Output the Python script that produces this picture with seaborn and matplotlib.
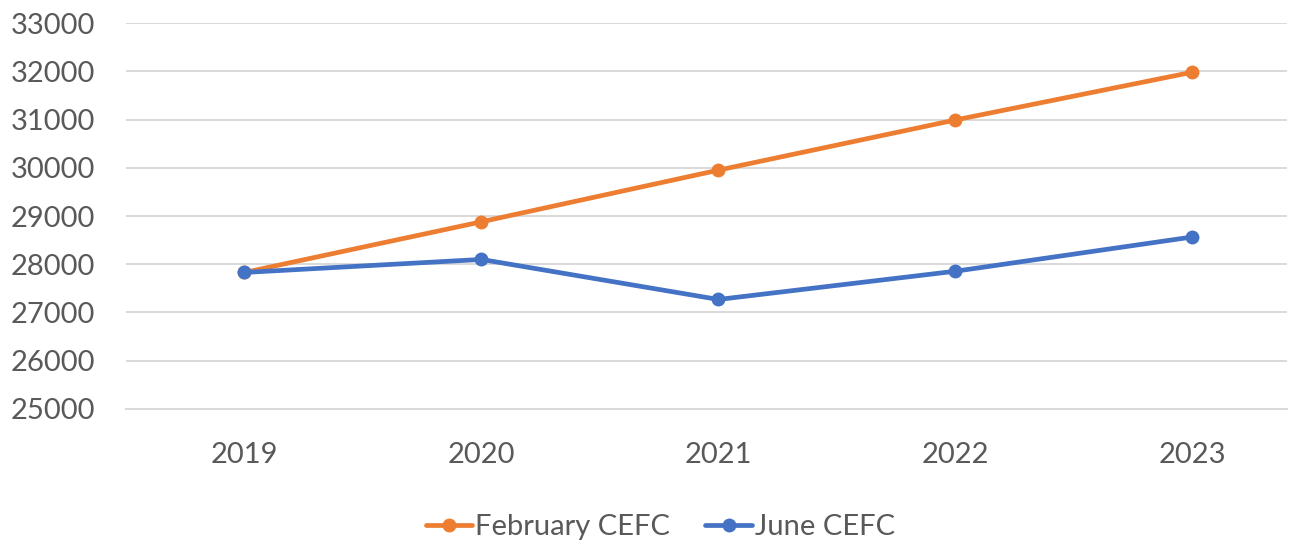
import matplotlib
matplotlib.use("Agg")
import matplotlib.pyplot as plt
import seaborn as sns
import pandas as pd

# data
years = ["2019", "2020", "2021", "2022", "2023"]
february = [27830, 28880, 29950, 30990, 31980]
june = [27830, 28100, 27270, 27855, 28565]

df = pd.DataFrame({
    "year": years * 2,
    "value": february + june,
    "series": ["February CEFC"] * 5 + ["June CEFC"] * 5,
})

sns.set_style("white")
plt.rcParams["font.family"] = ["Lato", "DejaVu Sans"]

fig = plt.figure(figsize=(12.95, 5.43), dpi=100)
ax = fig.add_axes([0.0973, 0.2468, 0.8965, 0.7108])

sns.lineplot(data=df, x="year", y="value", hue="series",
             palette={"February CEFC": "#ED7D31", "June CEFC": "#4472C4"},
             marker="o", markersize=10, markeredgewidth=0, linewidth=3.4,
             ax=ax, sort=False)

ax.set_ylim(25000, 33000)
ax.set_yticks(range(25000, 33001, 1000))
ax.set_xlim(-0.5, 4.4)
ax.yaxis.grid(True, color="#D9D9D9", linewidth=1.4)
ax.set_axisbelow(True)
for s in ax.spines.values():
    s.set_visible(False)
ax.spines["bottom"].set_visible(True)
ax.spines["bottom"].set_color("#D9D9D9")
ax.spines["bottom"].set_linewidth(1.4)
ax.tick_params(axis="both", length=0, labelsize=21, labelcolor="#595959")
ax.tick_params(axis="x", pad=24)
ax.tick_params(axis="y", pad=22)
ax.set_xlabel("")
ax.set_ylabel("")

handles, labels = ax.get_legend_handles_labels()
ax.get_legend().remove()
fig.legend(handles, labels, loc="center", bbox_to_anchor=(0.51, 0.03), ncol=2,
           frameon=False, fontsize=21, labelcolor="#595959", handlelength=1.6,
           handletextpad=0.1, columnspacing=1.2)

fig.savefig("out.png", dpi=100)
